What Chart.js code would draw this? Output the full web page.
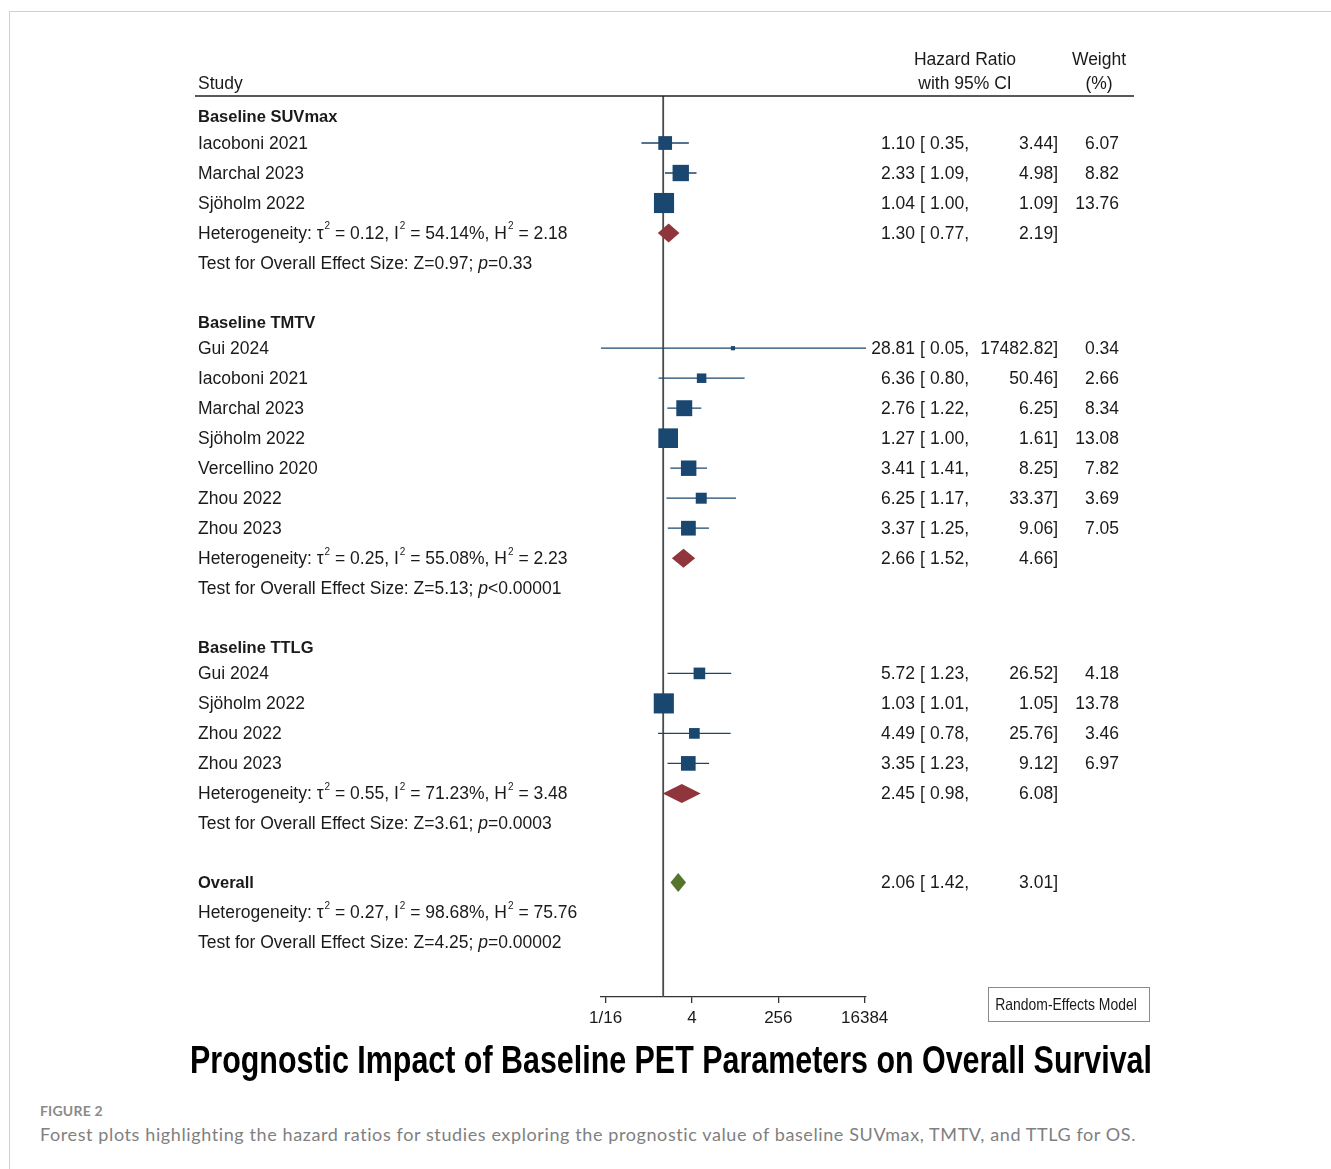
<!DOCTYPE html>
<html>
<head>
<meta charset="utf-8">
<script src="https://cdn.jsdelivr.net/npm/chart.js@4.4.1/dist/chart.umd.min.js"></script>
<style>
  html, body { margin: 0; padding: 0; background: #fff; }
  body { width: 1331px; height: 1169px; position: relative; overflow: hidden; }
  #frame { position: absolute; left: 9px; top: 11px; width: 1340px; height: 1200px;
           border-left: 1.5px solid #d0d0d0; border-top: 1.5px solid #d0d0d0; }
  #plot { position: absolute; left: 0; top: 0; }
  #title { position: absolute; left: 190px; top: 1040px; white-space: nowrap;
           font-family: "Liberation Sans Narrow", "Liberation Sans", Arial, sans-serif;
           font-weight: bold; font-size: 38px; line-height: 40px; color: #000; transform-origin: 0 0; }
  #figlabel { position: absolute; left: 40px; top: 1102px; font-family: Lato, "Open Sans", sans-serif;
              font-weight: bold; font-size: 14px; color: #8a8a8a; letter-spacing: 0.2px; }
  #caption { position: absolute; left: 40px; top: 1123px; white-space: nowrap;
             font-family: Lato, "Open Sans", sans-serif; font-size: 18px; color: #808080; }
</style>
</head>
<body>
<div id="frame"></div>
<canvas id="plot" width="1331" height="1040"></canvas>
<div id="title">Prognostic Impact of Baseline PET Parameters on Overall Survival</div>
<div id="figlabel">FIGURE 2</div>
<div id="caption">Forest plots highlighting the hazard ratios for studies exploring the prognostic value of baseline SUVmax, TMTV, and TTLG for OS.</div>
<script>
// ---- study-level data ----
const groupNames = ['Baseline SUVmax', 'Baseline TMTV', 'Baseline TTLG'];
const studyNames = ['Iacoboni 2021', 'Marchal 2023', 'Sjöholm 2022',
  'Gui 2024', 'Iacoboni 2021', 'Marchal 2023', 'Sjöholm 2022', 'Vercellino 2020', 'Zhou 2022', 'Zhou 2023',
  'Gui 2024', 'Sjöholm 2022', 'Zhou 2022', 'Zhou 2023'];
const studyGroup = [0, 0, 0, 1, 1, 1, 1, 1, 1, 1, 2, 2, 2, 2];
const hazardRatio = [1.10, 2.33, 1.04, 28.81, 6.36, 2.76, 1.27, 3.41, 6.25, 3.37, 5.72, 1.03, 4.49, 3.35];
const ciLower = [0.35, 1.09, 1.00, 0.05, 0.80, 1.22, 1.00, 1.41, 1.17, 1.25, 1.23, 1.01, 0.78, 1.23];
const ciUpper = [3.44, 4.98, 1.09, 17482.82, 50.46, 6.25, 1.61, 8.25, 33.37, 9.06, 26.52, 1.05, 25.76, 9.12];
const weightPct = [6.07, 8.82, 13.76, 0.34, 2.66, 8.34, 13.08, 7.82, 3.69, 7.05, 4.18, 13.78, 3.46, 6.97];

// ---- subgroup pooled estimates ----
const pooledHR = [1.30, 2.66, 2.45];
const pooledLower = [0.77, 1.52, 0.98];
const pooledUpper = [2.19, 4.66, 6.08];
const hetTau2 = ['0.12', '0.25', '0.55'];
const hetI2 = ['54.14', '55.08', '71.23'];
const hetH2 = ['2.18', '2.23', '3.48'];
const testZ = ['0.97', '5.13', '3.61'];
const testP = ['=0.33', '<0.00001', '=0.0003'];

// ---- overall pooled estimate ----
const overallHR = 2.06, overallLower = 1.42, overallUpper = 3.01;
const overallTau2 = '0.27', overallI2 = '98.68', overallH2 = '75.76';
const overallZ = '4.25', overallP = '=0.00002';

// ---- x axis ticks (log2 scale) ----
const axisTicks = [1 / 16, 4, 256, 16384];
const tickLabels = ['1/16', '4', '256', '16384'];

// ---- styling ----
const FONT = '"Liberation Sans", Arial, sans-serif';
const NAVY = '#1A476F', MAROON = '#90353B', GREEN = '#55752F', INK = '#1a1a1a';
const HEADER_LEAD = 0.87, GROUP_GAP = 1.97;

// Row layout: group heading, studies, heterogeneity, test line, then a gap.
const rows = { header: [], study: [], het: [], test: [] };
let cursor = -HEADER_LEAD;
groupNames.forEach((g, gi) => {
  rows.header[gi] = cursor;
  let r = cursor + HEADER_LEAD;
  studyGroup.forEach((sg, i) => { if (sg === gi) { rows.study[i] = r; r += 1; } });
  rows.het[gi] = r;
  rows.test[gi] = r + 1;
  cursor = r + 1 + GROUP_GAP;
});
const overallRow = cursor;

const log2 = Math.log2;
const ciData = [];
hazardRatio.forEach((hr, i) => {
  ciData.push({ x: log2(ciLower[i]), y: rows.study[i] });
  ciData.push({ x: log2(ciUpper[i]), y: rows.study[i] });
  ciData.push({ x: null, y: null });
});
const squareData = hazardRatio.map((hr, i) => ({ x: log2(hr), y: rows.study[i] }));
const squareRadius = weightPct.map(w => (5.1 * Math.sqrt(w) + 1.2) / Math.SQRT2);

function drawRich(ctx, x, y, parts, size) {
  let cx = x;
  parts.forEach(p => {
    if (p.sup) {
      ctx.font = `${Math.round(size * 0.55)}px ${FONT}`;
      ctx.fillText(p.t, cx + 1, y - size * 0.42);
      cx += ctx.measureText(p.t).width + 1;
    } else {
      ctx.font = `${p.italic ? 'italic ' : ''}${p.bold ? 'bold ' : ''}${size}px ${FONT}`;
      ctx.fillText(p.t, cx, y);
      cx += ctx.measureText(p.t).width;
    }
  });
}

const hetParts = (t2, i2, h2) => [
  { t: 'Heterogeneity: τ' }, { t: '2', sup: true }, { t: ' = ' + t2 + ', I' }, { t: '2', sup: true },
  { t: ' = ' + i2 + '%, H' }, { t: '2', sup: true }, { t: ' = ' + h2 }];
const testParts = (z, p) => [{ t: 'Test for Overall Effect Size: Z=' + z + '; ' }, { t: 'p', italic: true }, { t: p }];

const forestText = {
  id: 'forestText',
  beforeDatasetsDraw(chart) {
    const { ctx, chartArea, scales } = chart;
    const x1 = scales.x.getPixelForValue(0);
    ctx.save();
    ctx.strokeStyle = '#4a4a4a';
    ctx.lineWidth = 1.8;
    ctx.beginPath();
    ctx.moveTo(x1, chartArea.top);
    ctx.lineTo(x1, chartArea.bottom);
    ctx.stroke();
    ctx.restore();
  },
  afterDatasetsDraw(chart) {
    const { ctx, scales } = chart;
    const diamond = (lo, est, hi, r, color) => {
      const y = scales.y.getPixelForValue(r);
      const xl = scales.x.getPixelForValue(log2(lo));
      const xe = scales.x.getPixelForValue(log2(est));
      const xh = scales.x.getPixelForValue(log2(hi));
      ctx.beginPath();
      ctx.moveTo(xl, y); ctx.lineTo(xe, y - 9.5); ctx.lineTo(xh, y); ctx.lineTo(xe, y + 9.5);
      ctx.closePath();
      ctx.fillStyle = color;
      ctx.fill();
    };
    ctx.save();
    pooledHR.forEach((hr, gi) => diamond(pooledLower[gi], hr, pooledUpper[gi], rows.het[gi], MAROON));
    diamond(overallLower, overallHR, overallUpper, overallRow, GREEN);
    ctx.restore();
  },
  afterDraw(chart) {
    const { ctx, chartArea, scales } = chart;
    const py = r => scales.y.getPixelForValue(r) + 1;
    const S = 17.5;
    const xLabel = 198, xEst = 915, xBr = 920, xLo = 969, xHi = 1058, xW = 1119;
    ctx.save();
    ctx.fillStyle = INK;
    ctx.textBaseline = 'middle';

    // column headings and rule
    ctx.font = `${S}px ${FONT}`;
    ctx.textAlign = 'left';
    ctx.fillText('Study', xLabel, chartArea.top - 12);
    ctx.textAlign = 'center';
    ctx.fillText('Hazard Ratio', 965, chartArea.top - 36);
    ctx.fillText('with 95% CI', 965, chartArea.top - 12);
    ctx.fillText('Weight', 1099, chartArea.top - 36);
    ctx.fillText('(%)', 1099, chartArea.top - 12);
    ctx.strokeStyle = '#222';
    ctx.lineWidth = 1.4;
    ctx.beginPath();
    ctx.moveTo(195, chartArea.top);
    ctx.lineTo(1134, chartArea.top);
    ctx.stroke();

    const ciText = (est, lo, hi, w, y) => {
      ctx.font = `${S}px ${FONT}`;
      ctx.textAlign = 'right';
      ctx.fillText(est.toFixed(2), xEst, y);
      ctx.fillText(lo.toFixed(2) + ',', xLo, y);
      ctx.fillText(hi.toFixed(2) + ']', xHi, y);
      if (w !== null) ctx.fillText(w.toFixed(2), xW, y);
      ctx.textAlign = 'left';
      ctx.fillText('[', xBr, y);
    };

    groupNames.forEach((g, gi) => {
      ctx.textAlign = 'left';
      ctx.font = `bold 16.5px ${FONT}`;
      ctx.fillText(g, xLabel, py(rows.header[gi]));
      studyGroup.forEach((sg, i) => {
        if (sg !== gi) return;
        const y = py(rows.study[i]);
        ctx.textAlign = 'left';
        ctx.font = `${S}px ${FONT}`;
        ctx.fillText(studyNames[i], xLabel, y);
        ciText(hazardRatio[i], ciLower[i], ciUpper[i], weightPct[i], y);
      });
      ctx.textAlign = 'left';
      drawRich(ctx, xLabel, py(rows.het[gi]), hetParts(hetTau2[gi], hetI2[gi], hetH2[gi]), S);
      ciText(pooledHR[gi], pooledLower[gi], pooledUpper[gi], null, py(rows.het[gi]));
      ctx.textAlign = 'left';
      drawRich(ctx, xLabel, py(rows.test[gi]), testParts(testZ[gi], testP[gi]), S);
    });

    ctx.textAlign = 'left';
    ctx.font = `bold 16.5px ${FONT}`;
    ctx.fillText('Overall', xLabel, py(overallRow));
    ciText(overallHR, overallLower, overallUpper, null, py(overallRow));
    ctx.textAlign = 'left';
    drawRich(ctx, xLabel, py(overallRow + 1), hetParts(overallTau2, overallI2, overallH2), S);
    ctx.textAlign = 'left';
    drawRich(ctx, xLabel, py(overallRow + 2), testParts(overallZ, overallP), S);

    // model note box (narrow lettering)
    ctx.strokeStyle = '#8a8a8a';
    ctx.lineWidth = 1;
    ctx.strokeRect(988.5, 987.5, 161, 34);
    ctx.font = `16.5px ${FONT}`;
    ctx.textAlign = 'center';
    ctx.fillStyle = INK;
    ctx.translate(1066, 1005);
    ctx.scale(0.845, 1);
    ctx.fillText('Random-Effects Model', 0, 0);
    ctx.restore();
  }
};

new Chart(document.getElementById('plot'), {
  type: 'scatter',
  data: {
    datasets: [
      { type: 'line', label: '95% CI', data: ciData, showLine: true, spanGaps: false,
        borderColor: NAVY, borderWidth: 1.3, pointRadius: 0, order: 2 },
      { type: 'scatter', label: 'Hazard ratio', data: squareData, pointStyle: 'rect',
        pointRadius: squareRadius, pointHoverRadius: squareRadius, backgroundColor: NAVY,
        borderWidth: 0, order: 1 }
    ]
  },
  options: {
    responsive: false,
    devicePixelRatio: 1,
    animation: false,
    events: [],
    layout: { padding: { left: 601, right: 465, top: 96, bottom: 13 } },
    plugins: { legend: { display: false }, tooltip: { enabled: false }, title: { display: false } },
    scales: {
      x: {
        type: 'linear',
        min: log2(Math.min(...ciLower)),
        max: log2(Math.max(...ciUpper)),
        afterBuildTicks: scale => { scale.ticks = axisTicks.map(v => ({ value: log2(v) })); },
        afterFit: scale => { scale.height = 30; },
        border: { display: true, color: '#333', width: 1.3 },
        grid: { display: true, drawOnChartArea: false, drawTicks: true, tickLength: 6, color: '#333', lineWidth: 1.3 },
        ticks: { autoSkip: false, maxRotation: 0, padding: 5, color: INK,
                 font: { family: FONT, size: 17 }, callback: (v, i) => tickLabels[i] }
      },
      y: { type: 'linear', display: false, reverse: true, min: -1.567, max: 28.467 }
    }
  },
  plugins: [forestText]
});

// fit heading and caption to their line widths
function fitWidth(el, target) {
  el.style.transform = 'none';
  const w = el.getBoundingClientRect().width;
  if (w > 0) el.style.transform = `scaleX(${target / w})`;
}
function fitSpacing(el, target) {
  el.style.letterSpacing = '0px';
  const w = el.getBoundingClientRect().width;
  const n = el.textContent.length;
  if (w > 0 && n > 1) el.style.letterSpacing = ((target - w) / n).toFixed(3) + 'px';
}
document.fonts.ready.then(() => {
  fitWidth(document.getElementById('title'), 962);
  fitSpacing(document.getElementById('caption'), 1097);
});
</script>
</body>
</html>
